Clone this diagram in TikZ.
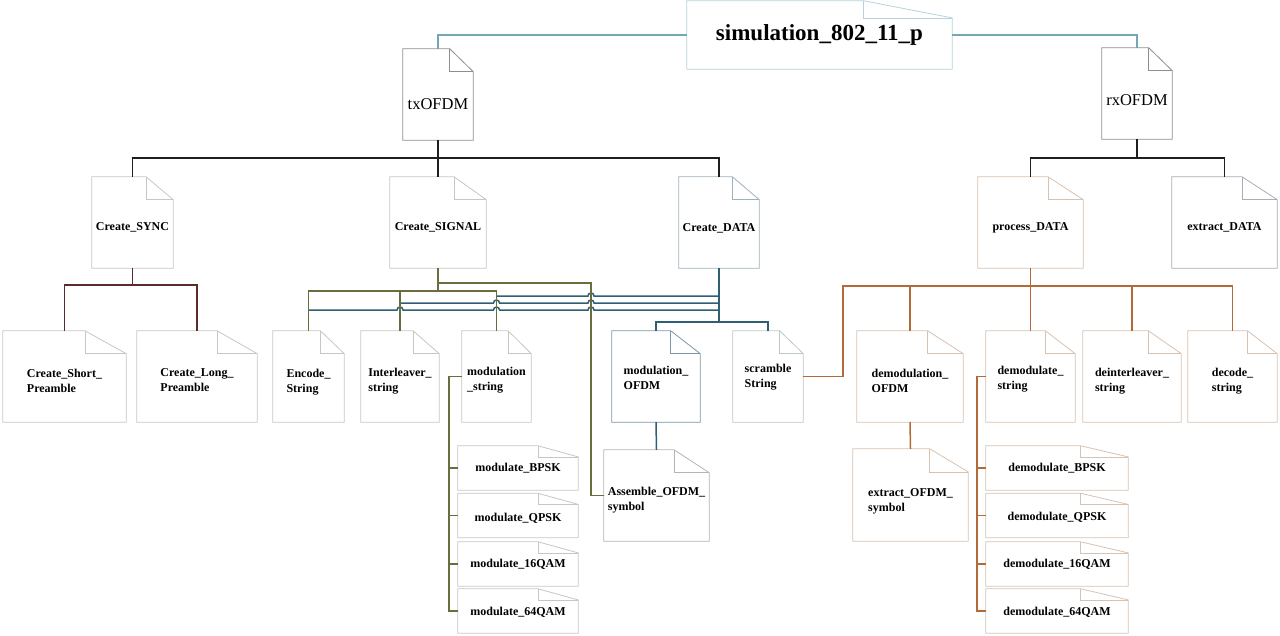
\documentclass[tikz,border=0pt]{standalone}
\usepackage{fontspec}
\setmainfont{Liberation Serif}
\usetikzlibrary{calc}
\definecolor{simedge}{HTML}{B7D2DA}
\definecolor{txedge}{HTML}{8E8E8E}
\definecolor{lightedge}{HTML}{C9C5C3}
\definecolor{dataedge}{HTML}{9DB2BB}
\definecolor{tanedge}{HTML}{D7C2B1}
\definecolor{xdedge}{HTML}{ABABB8}
\definecolor{mofedge}{HTML}{7D97A4}
\definecolor{scredge}{HTML}{BCC7CC}
\definecolor{asmedge}{HTML}{B4B4B4}
\definecolor{simcol}{HTML}{74A6B6}
\definecolor{txcol}{HTML}{1E1E1E}
\definecolor{synccol}{HTML}{5B2C2C}
\definecolor{sigcol}{HTML}{6A6D3E}
\definecolor{datcol}{HTML}{2E5F73}
\definecolor{proccol}{HTML}{B36A38}
\newcommand{\boxfont}{\bfseries\fontsize{12}{15}\selectfont}
\newcommand{\dn}[1]{\rule{0pt}{#1pt}}
\tikzset{
  docline/.style={line width=0.8pt},
  doc/.style={rectangle, inner sep=0pt, align=left, font=\boxfont,
    append after command={\pgfextra{\let\docnode\tikzlastnode
      \draw[docline, #1] (\docnode.south west) -- (\docnode.north west)
        -- ($(\docnode.north west)!2/3!(\docnode.north east)$)
        -- ($(\docnode.north east)!1/4!(\docnode.south east)$)
        -- (\docnode.south east) -- cycle;
      \draw[docline, #1] ($(\docnode.north west)!2/3!(\docnode.north east)$)
        |- ($(\docnode.north east)!1/4!(\docnode.south east)$);
    }}},
  dim/.style 2 args={minimum width=#1pt, minimum height=#2pt},
  drop/.style={execute at begin node={\rule{0pt}{#1pt}}},
  simline/.style={line width=1.2pt, simcol},
  txline/.style={line width=1.5pt, txcol},
  syncline/.style={line width=1.3pt, synccol},
  sigline/.style={line width=1.5pt, sigcol},
  datline/.style={line width=1.5pt, datcol},
  procline/.style={line width=1.5pt, proccol}
}
\begin{document}
\begin{tikzpicture}[x=1pt, y=1pt]
\useasboundingbox (0,0) rectangle (1280,-635);

% top levels
\node[doc=simedge, dim={265}{68}, font=\bfseries\fontsize{23}{26}\selectfont] (sim) at (819.5,-35) {simulation\_802\_11\_p};
\node[doc=txedge, dim={70}{91}, drop=30, font=\fontsize{16.5}{18}\selectfont] (tx) at (438,-94.5) {txOFDM};
\node[doc=txedge, dim={70}{91}, drop=25, font=\fontsize{16.5}{18}\selectfont] (rx) at (1137,-93.5) {rxOFDM};

% second row
\node[doc=lightedge, dim={81}{91}, drop=17] (sync) at (132.5,-222.5) {Create\_SYNC};
\node[doc=lightedge, dim={96}{91}, drop=17] (signal) at (438,-222.5) {Create\_SIGNAL};
\node[doc=dataedge, dim={80}{91}, drop=19] (cdata) at (719,-222.5) {Create\_DATA};
\node[doc=tanedge, dim={105}{91}, drop=19] (pdata) at (1030.5,-222.5) {process\_DATA};
\node[doc=xdedge, dim={105}{91}, drop=18] (xdata) at (1224.5,-222.5) {extract\_DATA};

% third row
\node[doc=lightedge, dim={123}{91}] (short) at (64.5,-376.5) {\dn{18}Create\_Short\_\\Preamble};
\node[doc=lightedge, dim={120}{91}] (long) at (197,-376.5) {\dn{16}Create\_Long\_\\Preamble};
\node[doc=lightedge, dim={71}{91}] (encode) at (308.5,-376.5) {\dn{19}Encode\_\\String};
\node[doc=lightedge, dim={78}{91}] (inter) at (400,-376.5) {\dn{18}Interleaver\_\\string};
\node[doc=lightedge, dim={69}{91}] (modstr) at (496.5,-376.5) {\dn{16}modulation\\\_string};
\node[doc=mofedge, dim={88}{91}] (mofdm) at (656,-376.5) {\dn{11}modulation\_\\OFDM};
\node[doc=scredge, dim={70}{91}] (scram) at (768,-376.5) {\dn{10}scramble\\String};
\node[doc=tanedge, dim={106}{91}] (dofdm) at (910,-376.5) {\dn{17}demodulation\_\\OFDM};
\node[doc=tanedge, dim={89}{91}] (dstr) at (1030.5,-376.5) {\dn{13}demodulate\_\\string};
\node[doc=tanedge, dim={98}{91}] (dint) at (1132,-376.5) {\dn{17}deinterleaver\_\\string};
\node[doc=tanedge, dim={89}{91}] (dec) at (1232.5,-376.5) {\dn{17}decode\_\\string};

% fourth row
\node[doc=asmedge, dim={105}{91}] (assem) at (656.5,-495.5) {\dn{18}Assemble\_OFDM\_\\symbol};
\node[doc=tanedge, dim={115}{92}] (xsym) at (910.5,-495) {\dn{21}extract\_OFDM\_\\symbol};
\node[doc=lightedge, dim={120}{44}] (mbpsk) at (518,-468) {modulate\_BPSK};
\node[doc=lightedge, dim={120}{44}, drop=14] (mqpsk) at (518,-515.5) {modulate\_QPSK};
\node[doc=lightedge, dim={120}{44}] (m16) at (518,-564) {modulate\_16QAM};
\node[doc=lightedge, dim={120}{44}, drop=11] (m64) at (518,-611) {modulate\_64QAM};
\node[doc=tanedge, dim={142}{44}] (dbpsk) at (1057,-468) {demodulate\_BPSK};
\node[doc=tanedge, dim={142}{44}, drop=12] (dqpsk) at (1057,-515.5) {demodulate\_QPSK};
\node[doc=tanedge, dim={142}{44}] (d16) at (1057,-564) {demodulate\_16QAM};
\node[doc=tanedge, dim={142}{44}, drop=11] (d64) at (1057,-611) {demodulate\_64QAM};

% bus levels
\coordinate (topbus) at (0,-158);
\coordinate (syncbus) at (0,-285);
\coordinate (asmbus) at (0,-283);
\coordinate (sigbus) at (0,-291);
\coordinate (tda) at (0,-296);
\coordinate (tdb) at (0,-303);
\coordinate (tdc) at (0,-310);
\coordinate (datbus) at (0,-322);
\coordinate (pbus) at (0,-286);
\coordinate (asmturn) at (591,0);
\coordinate (pturn) at (843,0);
\coordinate (mspine) at (449,0);
\coordinate (dspine) at (977,0);

% connectors
\draw[simline] (sim.west) -| (tx.north);
\draw[simline] (sim.east) -| (rx.north);
\draw[txline] (sync.north) |- (cdata.north |- topbus) -- (cdata.north);
\draw[txline] (tx.south) -- (signal.north);
\draw[txline] (pdata.north) |- (xdata.north |- topbus) -- (xdata.north);
\draw[txline] (rx.south) -- (rx.south |- topbus);
\draw[syncline] (short.north) |- (long.north |- syncbus) -- (long.north);
\draw[syncline] (sync.south) -- (sync.south |- syncbus);

\draw[datline] (encode.north |- tdc)
  -- ($(inter.north |- tdc)+(-3,0)$) arc[start angle=180, end angle=0, radius=3]
  -- ($(modstr.north |- tdc)+(-3,0)$) arc[start angle=180, end angle=0, radius=3]
  -- ($(asmturn |- tdc)+(-3,0)$) arc[start angle=180, end angle=0, radius=3]
  -- (cdata.south |- tdc);
\draw[datline] (inter.north |- tdb)
  -- ($(modstr.north |- tdb)+(-3,0)$) arc[start angle=180, end angle=0, radius=3]
  -- ($(asmturn |- tdb)+(-3,0)$) arc[start angle=180, end angle=0, radius=3]
  -- (cdata.south |- tdb);
\draw[datline] (modstr.north |- tda)
  -- ($(asmturn |- tda)+(-3,0)$) arc[start angle=180, end angle=0, radius=3]
  -- (cdata.south |- tda);
\draw[datline] (cdata.south) -- (cdata.south |- datbus);
\draw[datline] (mofdm.north) |- (scram.north |- datbus) -- (scram.north);
\draw[datline] (mofdm.south) -- (assem.north);

\draw[sigline] (encode.north) |- (modstr.north |- sigbus) -- (modstr.north);
\draw[sigline] (inter.north) -- (inter.north |- sigbus);
\draw[sigline] (signal.south) -- (signal.south |- sigbus);
\draw[sigline] (signal.south |- asmbus) -| (asmturn |- assem.west) -- (assem.west);
\draw[sigline] (modstr.west) -| (mspine |- m64.west) -- (m64.west);
\foreach \n in {mbpsk,mqpsk,m16}
  \draw[sigline] (mspine |- \n.west) -- (\n.west);

\draw[procline] (pdata.south) -- (pdata.south |- pbus);
\draw[procline] (scram.east) -| (pturn |- pbus) -- (dec.north |- pbus) -- (dec.north);
\foreach \n in {dofdm,dstr,dint}
  \draw[procline] (\n.north) -- (\n.north |- pbus);
\draw[procline] (dofdm.south) -- (xsym.north);
\draw[procline] (dstr.west) -| (dspine |- d64.west) -- (d64.west);
\foreach \n in {dbpsk,dqpsk,d16}
  \draw[procline] (dspine |- \n.west) -- (\n.west);
\end{tikzpicture}
\end{document}
